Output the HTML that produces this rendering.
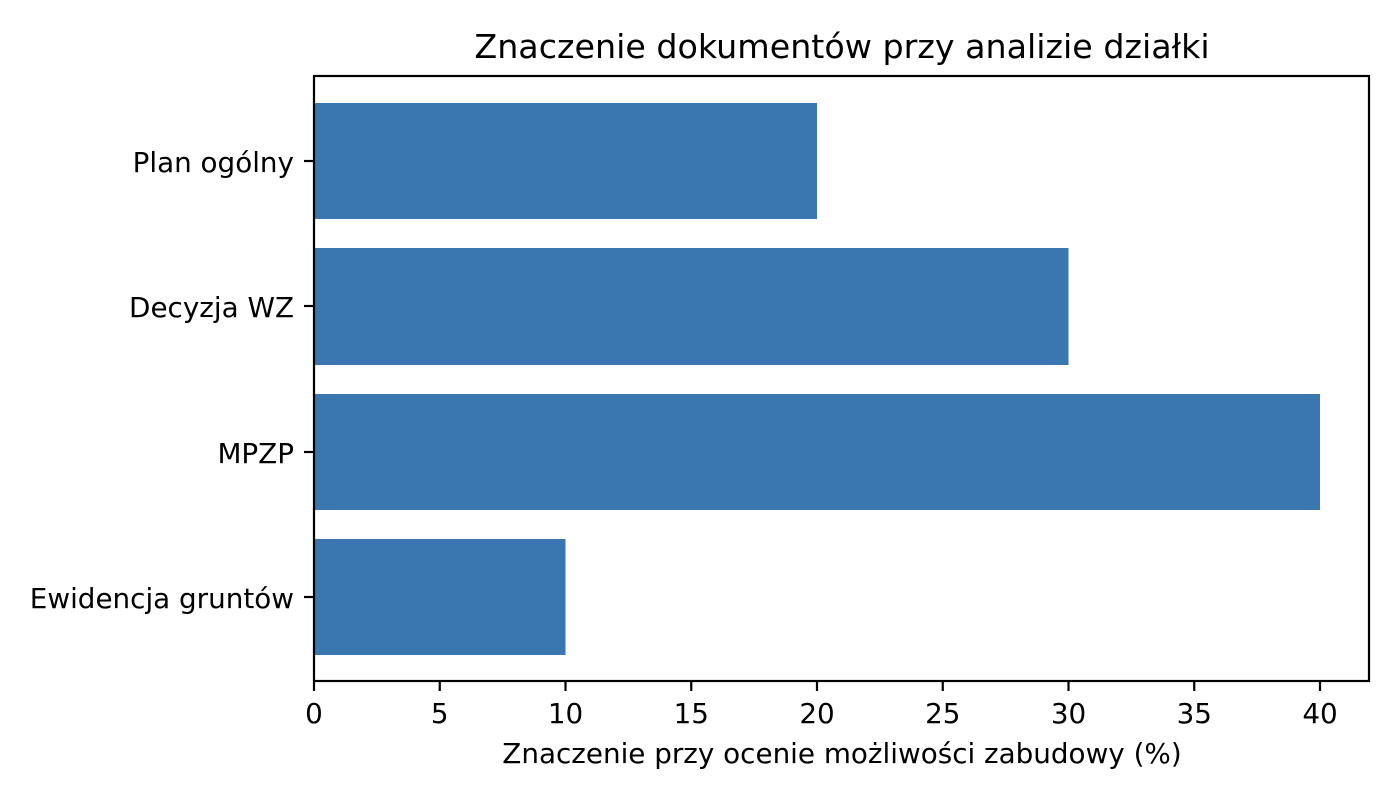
<!DOCTYPE html>
<html><head><meta charset="utf-8"><style>
body{margin:0;background:#fff}
svg text{font-family:"DejaVu Sans","Liberation Sans",sans-serif;fill:#000}
</style></head><body>
<svg width="1400" height="800" xmlns="http://www.w3.org/2000/svg">
<rect width="1400" height="800" fill="#fff"/>
<g fill="#3a76af">
<rect x="314" y="103" width="503" height="116"/>
<rect x="314" y="248" width="754.5" height="117"/>
<rect x="314" y="394" width="1006" height="116"/>
<rect x="314" y="539" width="251.5" height="116"/>
</g>
<rect x="314" y="76" width="1055" height="605" fill="none" stroke="#000" stroke-width="2.2"/>
<g stroke="#000" stroke-width="2.2">
<line x1="314" y1="681" x2="314" y2="691"/><line x1="439.75" y1="681" x2="439.75" y2="691"/>
<line x1="565.5" y1="681" x2="565.5" y2="691"/><line x1="691.25" y1="681" x2="691.25" y2="691"/>
<line x1="817" y1="681" x2="817" y2="691"/><line x1="942.75" y1="681" x2="942.75" y2="691"/>
<line x1="1068.5" y1="681" x2="1068.5" y2="691"/><line x1="1194.25" y1="681" x2="1194.25" y2="691"/>
<line x1="1320" y1="681" x2="1320" y2="691"/>
<line x1="304" y1="161" x2="314" y2="161"/><line x1="304" y1="306" x2="314" y2="306"/>
<line x1="304" y1="452" x2="314" y2="452"/><line x1="304" y1="597" x2="314" y2="597"/>
</g>
<g font-size="27.8" text-anchor="middle">
<text x="314" y="723">0</text><text x="439.75" y="723">5</text><text x="565.5" y="723">10</text>
<text x="691.25" y="723">15</text><text x="817" y="723">20</text><text x="942.75" y="723">25</text>
<text x="1068.5" y="723">30</text><text x="1194.25" y="723">35</text><text x="1320" y="723">40</text>
</g>
<g font-size="27.8" text-anchor="end">
<text x="294" y="172">Plan ogólny</text>
<text x="294" y="317">Decyzja WZ</text>
<text x="294" y="463">MPZP</text>
<text x="294" y="608">Ewidencja gruntów</text>
</g>
<text x="842" y="763" font-size="27.8" text-anchor="middle">Znaczenie przy ocenie możliwości zabudowy (%)</text>
<text x="842" y="58" font-size="33.3" text-anchor="middle">Znaczenie dokumentów przy analizie działki</text>
</svg>
</body></html>
